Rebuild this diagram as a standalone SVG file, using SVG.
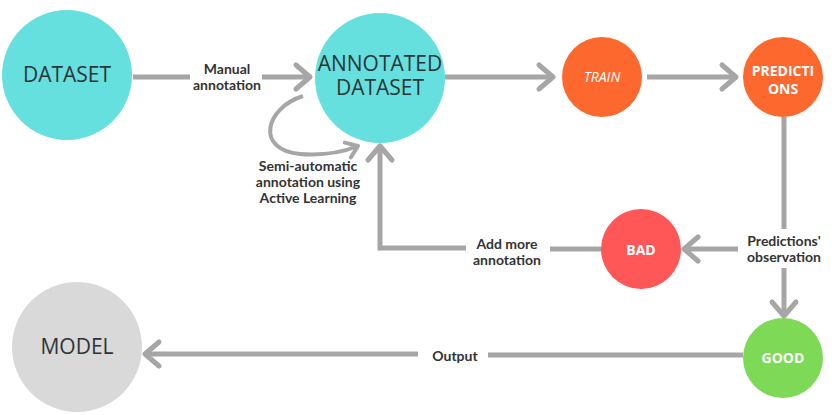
<svg xmlns="http://www.w3.org/2000/svg" width="835" height="415" viewBox="0 0 835 415">
<defs>
<marker id="ah" markerUnits="userSpaceOnUse" markerWidth="40" markerHeight="40" viewBox="-20 -20 40 40" refX="0" refY="0" orient="auto">
<path d="M-14,-12 L0,0 L-14,12" fill="none" stroke="#a6a6a6" stroke-width="5" stroke-linecap="round" stroke-linejoin="round"/>
</marker>
<marker id="ahs" markerUnits="userSpaceOnUse" markerWidth="30" markerHeight="30" viewBox="-15 -15 30 30" refX="0" refY="0" orient="auto">
<path d="M-11,-8 L0,0 L-11,8" fill="none" stroke="#a6a6a6" stroke-width="4" stroke-linecap="round" stroke-linejoin="round"/>
</marker>
</defs>
<style>
.ln{fill:none;stroke:#a6a6a6;stroke-width:5}
.lbl{font-family:"Lato","Open Sans",sans-serif;font-weight:bold;font-size:14px;fill:#333;text-anchor:middle}
.big{font-family:"Open Sans","Noto Sans",sans-serif;font-size:21px;fill:#2d3436;text-anchor:middle}
.sm{font-family:"Open Sans","Noto Sans",sans-serif;font-size:14px;fill:#fff;text-anchor:middle}
</style>
<rect width="835" height="415" fill="#fff"/>
<g id="connectors">
<path class="ln" d="M133,77 H190"/>
<path class="ln" d="M262,77 H310" marker-end="url(#ah)"/>
<path class="ln" d="M445,77 H553" marker-end="url(#ah)"/>
<path class="ln" d="M647,77 H736" marker-end="url(#ah)"/>
<path class="ln" d="M784,117 V229"/>
<path class="ln" d="M738,249 H684" marker-end="url(#ah)"/>
<path class="ln" d="M784,268 V316" marker-end="url(#ah)"/>
<path class="ln" d="M601,249 H550"/>
<path class="ln" d="M466,248 H380 V146" marker-end="url(#ah)"/>
<path class="ln" d="M743,355 H488"/>
<path class="ln" d="M418,354 H145" marker-end="url(#ah)"/>
<path fill="none" stroke="#a6a6a6" stroke-width="4" d="M303,96 C265,108 255,150 300,154 C325,156 343,152 358,146" marker-end="url(#ahs)"/>
<text class="lbl" x="227" y="74">Manual</text>
<text class="lbl" x="227" y="90">annotation</text>
<text class="lbl" x="308" y="171">Semi-automatic</text>
<text class="lbl" x="308" y="187">annotation using</text>
<text class="lbl" x="308" y="203">Active Learning</text>
<text class="lbl" x="507" y="249">Add more</text>
<text class="lbl" x="507" y="265">annotation</text>
<text class="lbl" x="784" y="246">Predictions'</text>
<text class="lbl" x="784" y="262">observation</text>
<text class="lbl" x="455" y="361">Output</text>
</g>
<g id="dataset">
<circle cx="67" cy="75" r="65" fill="#66e0df"/>
<text class="big" x="67" y="82">DATASET</text>
</g>
<g id="annotated">
<circle cx="380" cy="78" r="65" fill="#66e0df"/>
<text class="big" x="380" y="71">ANNOTATED</text>
<text class="big" x="380" y="95">DATASET</text>
</g>
<g id="train">
<circle cx="602" cy="77" r="40" fill="#fd682e"/>
<text class="sm" x="602" y="82" font-style="italic">TRAIN</text>
</g>
<g id="predictions">
<circle cx="783" cy="77" r="40" fill="#fd682e"/>
<text class="sm" x="783" y="76" font-weight="bold" font-size="13.5">PREDICTI</text>
<text class="sm" x="783" y="94" font-weight="bold" font-size="13.5">ONS</text>
</g>
<g id="bad">
<circle cx="641" cy="249" r="40" fill="#ff5757"/>
<text class="sm" x="641" y="255" font-weight="bold">BAD</text>
</g>
<g id="good">
<circle cx="783" cy="358" r="40" fill="#7ed957"/>
<text class="sm" x="783" y="363" font-weight="bold">GOOD</text>
</g>
<g id="model">
<circle cx="77" cy="347" r="65" fill="#d9d9d9"/>
<text class="big" x="77" y="354">MODEL</text>
</g>
</svg>
